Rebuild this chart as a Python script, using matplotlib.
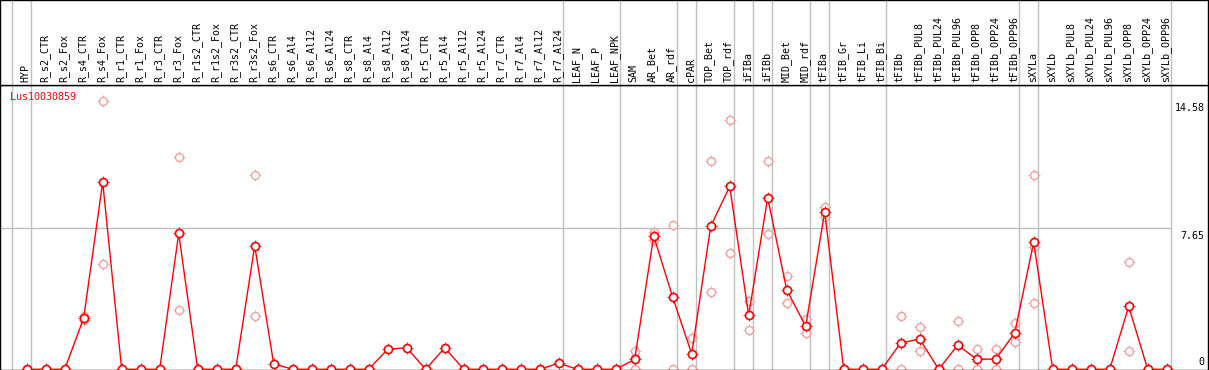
import numpy as np
import matplotlib
matplotlib.use("Agg")
import matplotlib.pyplot as plt

# categories (one per column)
samples = ["HYP", "R_s2_CTR", "R_s2_Fox", "R_s4_CTR", "R_s4_Fox", "R_r1_CTR", "R_r1_Fox",
           "R_r3_CTR", "R_r3_Fox", "R_r1s2_CTR", "R_r1s2_Fox", "R_r3s2_CTR", "R_r3s2_Fox",
           "R_s6_CTR", "R_s6_Al4", "R_s6_Al12", "R_s6_Al24", "R_s8_CTR", "R_s8_Al4",
           "R_s8_Al12", "R_s8_Al24", "R_r5_CTR", "R_r5_Al4", "R_r5_Al12", "R_r5_Al24",
           "R_r7_CTR", "R_r7_Al4", "R_r7_Al12", "R_r7_Al24", "LEAF_N", "LEAF_P", "LEAF_NPK",
           "SAM", "AR_Bet", "AR_rdf", "cPAR", "TOP_Bet", "TOP_rdf", "iFIBa", "iFIBb",
           "MID_Bet", "MID_rdf", "tFIBa", "tFIB_Gr", "tFIB_Li", "tFIB_Bi", "tFIBb",
           "tFIBb_PUL8", "tFIBb_PUL24", "tFIBb_PUL96", "tFIBb_OPP8", "tFIBb_OPP24",
           "tFIBb_OPP96", "sXYLa", "sXYLb", "sXYLb_PUL8", "sXYLb_PUL24", "sXYLb_PUL96",
           "sXYLb_OPP8", "sXYLb_OPP24", "sXYLb_OPP96"]

# mean expression per sample
means = [0, 0, 0, 2.78, 10.15, 0, 0, 0, 7.37, 0, 0, 0, 6.70,
         0.29, 0, 0, 0, 0, 0, 1.09, 1.17, 0, 1.17, 0, 0, 0, 0, 0, 0.33, 0, 0, 0,
         0.54, 7.24, 3.91, 0.84, 7.76, 9.92, 2.93, 9.32, 4.31, 2.34, 8.54, 0, 0, 0,
         1.43, 1.64, 0, 1.31, 0.55, 0.55, 1.97, 6.90, 0, 0, 0, 0, 3.41, 0, 0]

# replicate values (empty where nothing is visible)
replicates = [[], [], [], [2.69, 2.87], [14.58, 5.71], [], [], [], [11.50, 3.22], [], [], [], [10.53, 2.88],
              [], [], [], [], [], [], [], [], [], [], [], [], [], [], [], [], [], [], [],
              [0.98, 0.64, 0], [7.47, 7.02], [7.81, 0], [1.68, 0], [11.30, 4.18], [13.51, 6.29],
              [3.72, 2.13], [11.30, 7.32], [5.06, 3.58], [2.71, 1.95], [8.79, 8.28], [], [], [],
              [2.88, 0], [2.28, 0.99], [], [2.62, 0], [1.10, 0], [1.10, 0], [2.50, 1.46],
              [10.53, 3.58, 6.65], [], [], [], [], [5.81, 0.99], [], []]

# last sample index of each group (gray separators)
group_ends = [-1, 0, 28, 31, 34, 35, 37, 38, 39, 41, 42, 45, 52, 53, 60]

ytick_vals = [14.58, 7.65, 0]
gene = "Lus10030859"

W, H = 1209, 370
head_h = 85
x0_px, step_px = 26.7, 19.0
right_px = 1207.5
xlim = (-x0_px / step_px, (right_px - x0_px) / step_px)
px_per_unit = 18.43
ylim = (-0.7 / px_per_unit, (H - 0.7 - head_h) / px_per_unit)

mono = "DejaVu Sans Mono"
fs = 7.2
grid_c = "#c0c0c0"
red = "#ff0000"
light = "#f0a0a0"

fig = plt.figure(figsize=(W / 100, H / 100), dpi=100)
ax = fig.add_axes([0, 0, right_px / W, (H - head_h) / H])
hx = fig.add_axes([0, (H - head_h) / H, right_px / W, head_h / H])

x = np.arange(len(samples))

for a in (ax, hx):
    a.set_xlim(*xlim)
    a.set_xticks([])
    a.set_yticks([])
    for s in a.spines.values():
        s.set_linewidth(1.0)
        s.set_color("black")
    for g in group_ends:
        a.axvline(g + 0.2, color=grid_c, lw=1.0, zorder=0)

ax.set_ylim(*ylim)
hx.set_ylim(0, 1)

ax.hlines(7.65, xlim[0], group_ends[-1] + 0.2, color=grid_c, lw=1.0, zorder=0)

# replicates
for i, reps in enumerate(replicates):
    if reps:
        ax.plot([i] * len(reps), reps, ls="none", marker="+", ms=8.5, mew=0.6,
                color=light, zorder=2)
        ax.plot([i] * len(reps), reps, ls="none", marker="o", ms=5.8, mew=1.0,
                mfc="white", mec=light, zorder=2)

# mean line
ax.plot(x, means, color=red, lw=1.0, zorder=3)
ax.plot(x, means, ls="none", marker="+", ms=8.5, mew=0.6, color=red, zorder=4)
ax.plot(x, means, ls="none", marker="o", ms=5.8, mew=1.2, mfc="white", mec=red, zorder=5)

ax.text(10 / step_px + xlim[0], 14.75, gene, color=red, fontsize=fs, family=mono,
        va="center", ha="left")

# y labels on the right side
lab_x = xlim[1] - 0.15
for v in ytick_vals:
    if v == 0:
        ax.text(lab_x, v + 0.15, "0", fontsize=fs, family=mono, ha="right", va="bottom")
    else:
        ax.text(lab_x, v - 0.12, f"{v:.2f}", fontsize=fs, family=mono, ha="right", va="top")

# header labels
for i, s in enumerate(samples):
    hx.text(i - 0.05, 0.03, s, rotation=90, fontsize=fs, family=mono,
            ha="center", va="bottom")

fig.savefig("out.png", dpi=100)
